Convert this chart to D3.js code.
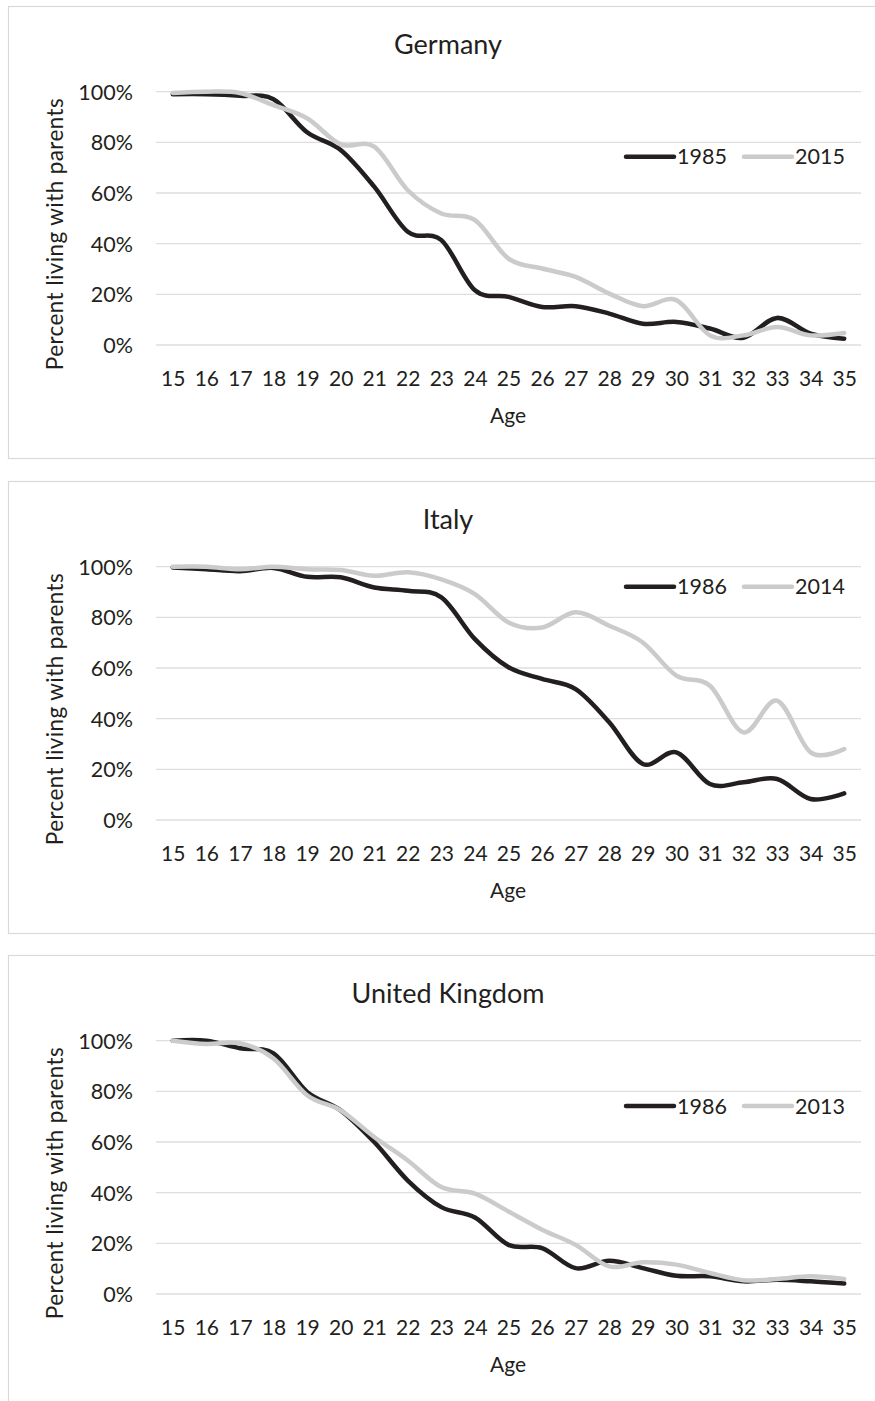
<!DOCTYPE html>
<html lang="en">
<head>
    <meta charset="UTF-8">
    <title>Percent living with parents by age</title>
    <script src="https://d3js.org/d3.v7.min.js"></script>
    <style>
        body {
            margin: 0;
            background-color: #fff;
        }
        svg text {
            font-family: 'Lato', 'Open Sans', sans-serif;
            fill: #231f20;
        }
    </style>
</head>
<body>
    <svg id="chart" width="875" height="1401"></svg>

    <script>
        // ages on the x axis
        const ages = ["15", "16", "17", "18", "19", "20", "21", "22", "23", "24", "25",
                      "26", "27", "28", "29", "30", "31", "32", "33", "34", "35"];
        const yTicks = [0, 20, 40, 60, 80, 100];

        const germany1985 = [99, 99, 98.4, 97, 84, 77, 62.5, 44.7, 41.4, 21.6, 19,
                             15, 15.3, 12.4, 8.4, 9.1, 6.5, 2.9, 10.7, 4.5, 2.5];
        const germany2015 = [99.5, 100, 99.5, 94.7, 89.5, 79.2, 78.3, 61.1, 51.9, 49.3, 34.1,
                             30.2, 26.9, 20.3, 15.3, 17.7, 3.8, 3.8, 7.1, 3.8, 4.7];

        const italy1986 = [99.7, 99, 98.2, 99.5, 96, 95.8, 91.8, 90.5, 87.9, 71.4, 60.3,
                           55.7, 51.7, 38.6, 22.1, 26.7, 14.2, 14.9, 16.2, 8.3, 10.5];
        const italy2014 = [100, 100, 99, 100, 99, 98.7, 96.4, 97.8, 95, 89.2, 78,
                           76, 82, 76.7, 70.1, 57, 53, 34.6, 47.1, 26.7, 28];

        const uk1986 = [100, 100, 97, 95, 79.8, 72.5, 60, 44.8, 34.3, 30.2, 19.4,
                        18.1, 10.2, 13.1, 10.2, 7.2, 7, 5, 5.6, 5, 4.1];
        const uk2013 = [100, 98.7, 99, 93, 78.5, 72.5, 62, 52.7, 42.2, 39.6, 32.6,
                        25.4, 19.4, 10.9, 12.5, 11.6, 8.3, 5.4, 5.9, 7, 5.9];

        const panels = [
            { title: "Germany", top: 6, legendY: 150.7,
              series: [{ name: "1985", values: germany1985, color: "#231f20" },
                       { name: "2015", values: germany2015, color: "#cbcbcb" }] },
            { title: "Italy", top: 481, legendY: 105.7,
              series: [{ name: "1986", values: italy1986, color: "#231f20" },
                       { name: "2014", values: italy2014, color: "#cbcbcb" }] },
            { title: "United Kingdom", top: 955, legendY: 151,
              series: [{ name: "1986", values: uk1986, color: "#231f20" },
                       { name: "2013", values: uk2013, color: "#cbcbcb" }] }
        ];

        const svg = d3.select("#chart");
        const plotLeft = 156, plotRight = 861;

        const x = d3.scalePoint().domain(ages).range([plotLeft, plotRight]).padding(0.5);

        panels.forEach((panel) => {
            const g = svg.append("g").attr("transform", `translate(0,${panel.top})`);

            // outer frame
            g.append("rect")
                .attr("x", 8.5).attr("y", 0.5)
                .attr("width", 880).attr("height", 452)
                .attr("fill", "#fff")
                .attr("stroke", "#d9d9d9")
                .attr("stroke-width", 1.2);

            const y = d3.scaleLinear().domain([0, 100]).range([339, 85.7]);

            // gridlines
            g.append("g")
                .selectAll("line")
                .data(yTicks)
                .enter()
                .append("line")
                .attr("x1", plotLeft).attr("x2", plotRight)
                .attr("y1", (d) => y(d)).attr("y2", (d) => y(d))
                .attr("stroke", "#dedede")
                .attr("stroke-width", 1.3);

            // y axis labels
            const yAxis = d3.axisLeft(y).tickValues(yTicks).tickSize(0).tickPadding(0)
                .tickFormat((d) => d + "%");
            const yg = g.append("g").attr("transform", "translate(133,0)").call(yAxis);
            yg.select(".domain").remove();
            yg.selectAll("text").style("font-size", "21.5px").attr("dy", "0.35em");

            // x axis labels
            const xAxis = d3.axisBottom(x).tickSize(0).tickPadding(0);
            const xg = g.append("g").attr("transform", "translate(0,364)").call(xAxis);
            xg.select(".domain").remove();
            xg.selectAll("text").style("font-size", "21px").attr("dy", "0.75em");

            // titles
            g.append("text")
                .attr("x", 448).attr("y", 48)
                .attr("text-anchor", "middle")
                .style("font-size", "27px")
                .text(panel.title);

            g.append("text")
                .attr("x", 508).attr("y", 417)
                .attr("text-anchor", "middle")
                .style("font-size", "21px")
                .text("Age");

            g.append("text")
                .attr("transform", "translate(63,228) rotate(-90)")
                .attr("text-anchor", "middle")
                .style("font-size", "22.5px")
                .style("letter-spacing", "0.4px")
                .text("Percent living with parents");

            // lines
            const line = d3.line()
                .x((d, i) => x(ages[i]))
                .y((d) => y(d))
                .curve(d3.curveCatmullRom.alpha(0));

            panel.series.forEach((s) => {
                g.append("path")
                    .datum(s.values)
                    .attr("d", line)
                    .attr("fill", "none")
                    .attr("stroke", s.color)
                    .attr("stroke-width", 4.5)
                    .attr("stroke-linecap", "round")
                    .attr("stroke-linejoin", "round");
            });

            // legend
            const legendX = [626, 744];
            panel.series.forEach((s, i) => {
                const lg = g.append("g").attr("transform", `translate(${legendX[i]},${panel.legendY})`);
                lg.append("line")
                    .attr("x1", 0).attr("x2", 48)
                    .attr("stroke", s.color)
                    .attr("stroke-width", 4.5)
                    .attr("stroke-linecap", "round");
                lg.append("text")
                    .attr("x", 51).attr("dy", "0.35em")
                    .style("font-size", "21.5px")
                    .text(s.name);
            });
        });
    </script>
</body>
</html>
